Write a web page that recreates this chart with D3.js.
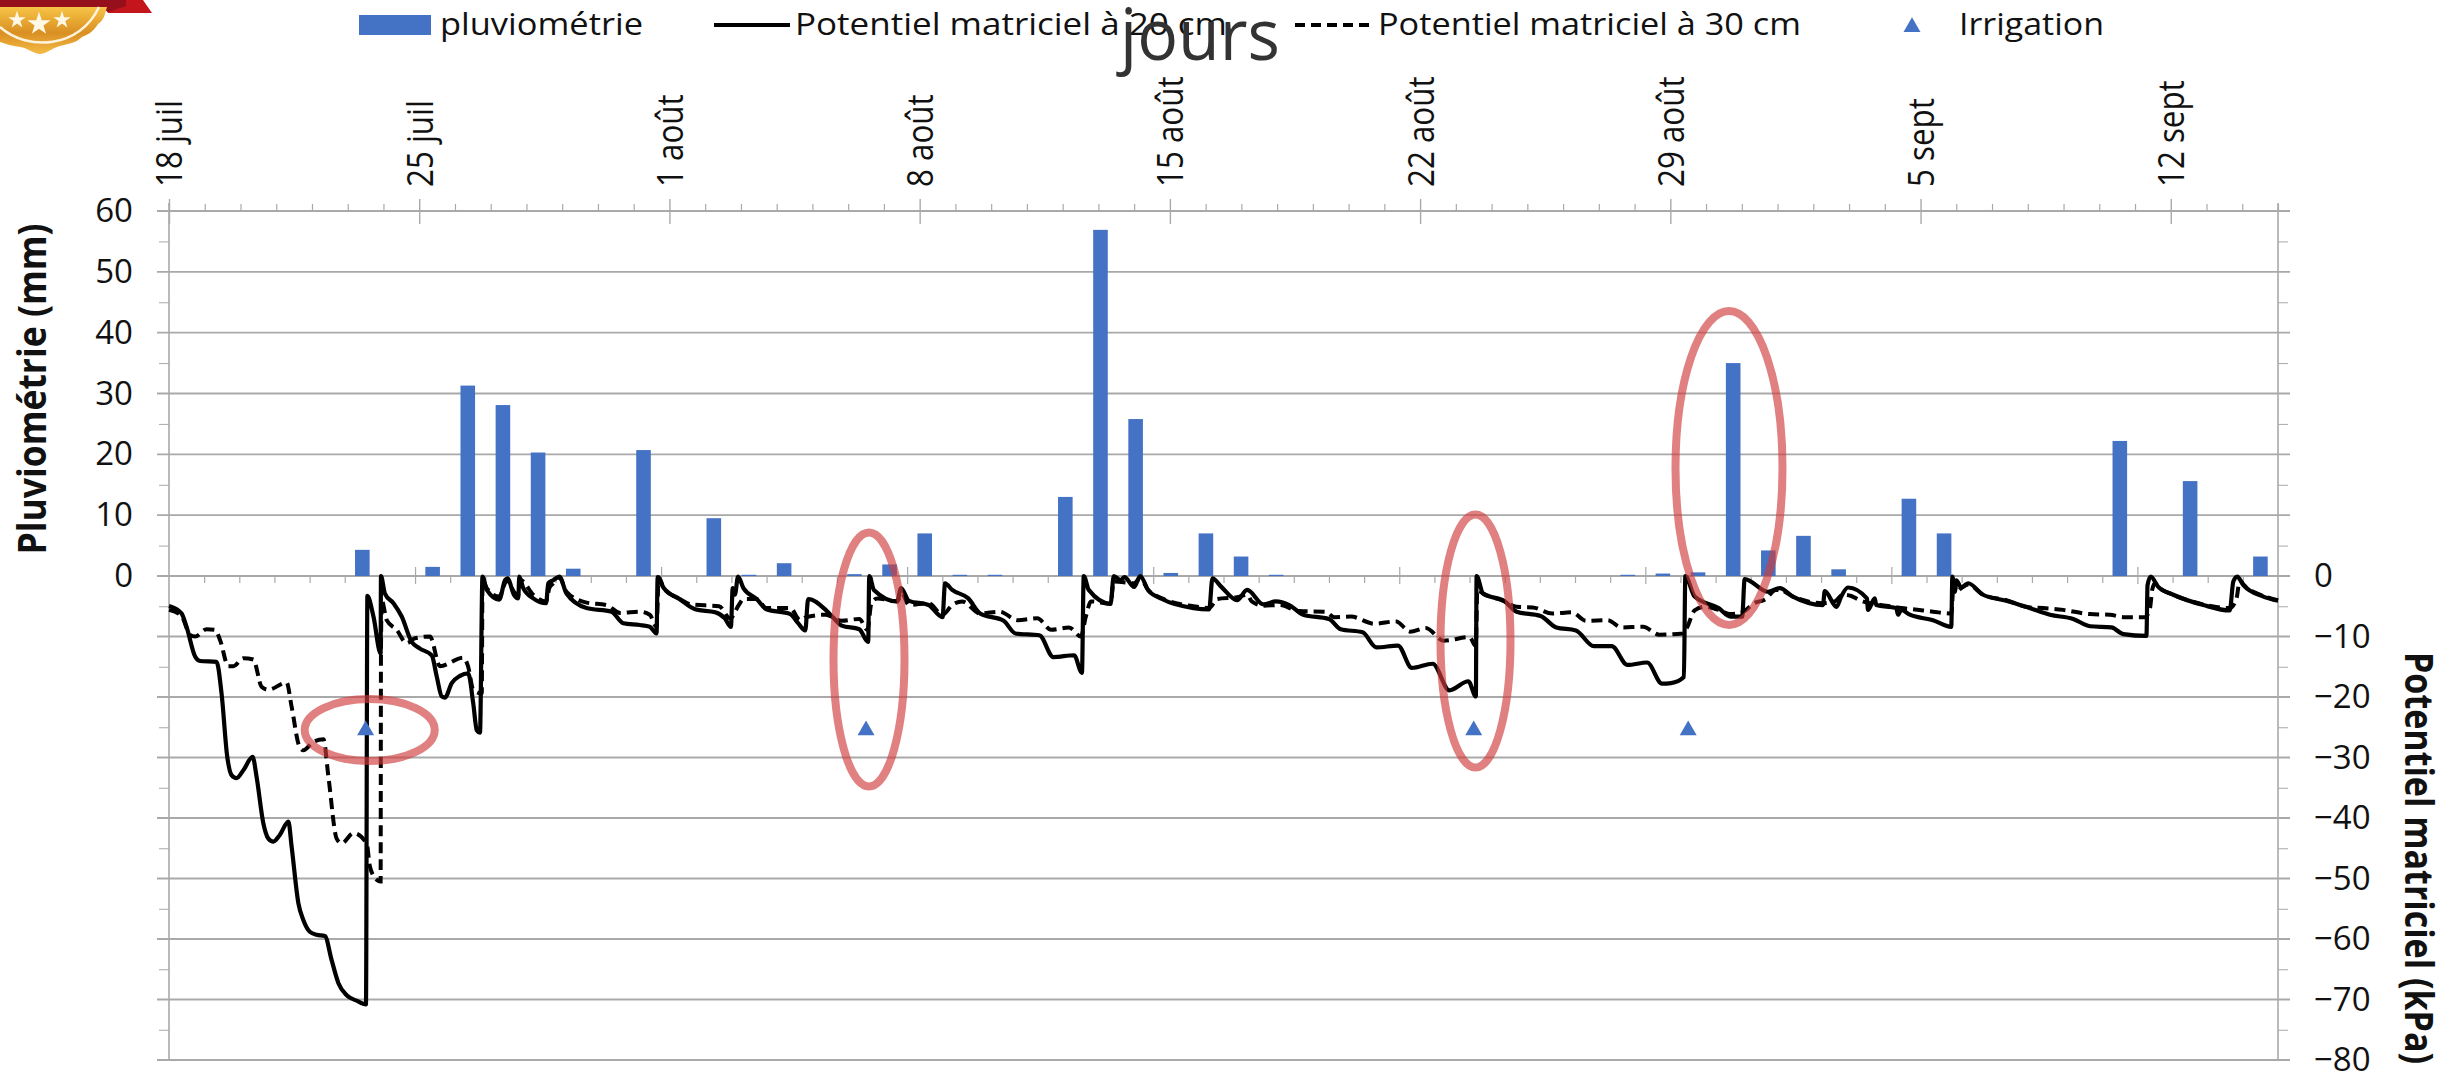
<!DOCTYPE html>
<html><head><meta charset="utf-8">
<style>html,body{margin:0;padding:0;background:#fff}svg{display:block}text{font-family:"Open Sans",sans-serif;fill:#111}</style>
<script src="https://cdn.jsdelivr.net/npm/d3@7/dist/d3.min.js"></script></head>
<body><svg id="c" width="2453" height="1073"></svg>
<script>
const rain=[0,0,0,0,0,4.3,0,1.5,31.3,28.1,20.3,1.2,0,20.7,0,9.5,0.2,2.1,0,0.3,1.9,7,0.2,0.2,0,13,56.9,25.8,0.5,7,3.2,0.2,0,0,0,0,0,0,0,0,0,0.2,0.4,0.6,35,4.2,6.6,1.1,0,12.7,7,0,0,0,0,22.2,0,15.6,0,3.2];
const dateLabels=["18 juil","25 juil","1 août","8 août","15 août","22 août","29 août","5 sept","12 sept"];
const irrigationDays=[5.5,19.5,36.5,42.5];
const irrigationLevel=[-25.5,-25.5,-25.5,-25.5];
const leftLabels=[0,10,20,30,40,50,60];
const rightLabels=[0,-10,-20,-30,-40,-50,-60,-70,-80];
const day20=[0,.35,.49,.73,.87,1.33,1.47,1.63,1.75,1.89,2.08,2.34,2.45,2.64,2.78,2.92,3.1,3.34,3.43,3.62,3.76,3.94,4.13,4.36,4.55,4.74,4.97,5.25,5.51,5.55,5.72,5.92,5.93,6.04,6.28,6.51,6.79,7.02,7.35,7.49,7.63,7.72,7.91,8.14,8.37,8.51,8.61,8.7,8.77,8.89,9.24,9.4,9.47,9.65,9.77,9.8,9.91,10.19,10.55,10.61,10.75,10.92,11.12,11.68,12.38,12.71,13.17,13.45,13.64,13.67,13.84,14.28,14.72,15.28,15.55,15.72,15.77,15.83,15.92,16.07,16.44,16.71,17.38,17.6,17.8,17.88,18.37,18.6,18.82,19.31,19.56,19.59,19.72,20.37,20.48,20.7,21.25,21.64,21.71,21.91,22.36,22.69,23.35,23.68,24.35,24.74,25.32,25.54,25.59,25.73,26.34,26.43,26.62,26.73,27,27.17,27.39,27.78,28.66,29.1,29.19,29.44,29.88,30.16,30.62,30.96,31.34,31.73,32.45,32.78,33.39,33.78,34.38,34.77,35.35,35.82,36.35,36.56,36.58,36.76,37.37,37.7,38.37,38.81,39.36,39.86,40.36,40.8,41.35,41.77,42.02,42.38,42.42,42.68,43.35,43.68,44.01,44.08,44.73,45.06,45.43,46.27,46.32,46.65,46.78,46.97,47.5,47.53,47.72,47.76,48.32,48.37,48.46,48.7,49.35,49.86,49.89,49.96,50,50.14,50.33,50.75,51.4,52.05,52.62,53.27,53.74,54.34,54.67,55.32,55.35,55.44,55.65,56.07,56.91,57.65,57.75,57.86,58.03,58.59,59];
const pot20=[-4.96,-6.17,-8.37,-13.3,-14.05,-14.2,-19.4,-29.9,-32.9,-33.4,-32.1,-29.9,-33.2,-40.9,-43.4,-43.9,-42.8,-40.6,-44.7,-54.1,-56.9,-58.8,-59.3,-59.5,-63.5,-67.3,-69.3,-70.2,-70.8,-3.3,-6.7,-12.8,0,-2.9,-4.5,-6.7,-10.9,-12,-13.1,-16.6,-19.9,-20.1,-17.7,-16.5,-16.1,-21,-25.5,-25.9,-0.1,-2.3,-3.9,-0.7,-0.4,-3.1,-3.7,-0.1,-2,-3.7,-4.5,-1.2,-0.7,-0.1,-2.9,-5.3,-5.9,-7.8,-8.1,-8.4,-9.5,-0.2,-2,-3.8,-5.5,-6,-7,-8.4,-2,-3.1,-0.1,-2,-3.8,-5.5,-6.3,-7.8,-9,-3.8,-5.6,-7,-8.2,-8.8,-10.9,0,-2.3,-4.2,-2,-4.1,-4.8,-6.8,-1.2,-2.3,-3.7,-6.2,-7.4,-9.5,-9.8,-13.4,-13.1,-16,0,-2.3,-4.6,0,-0.7,-0.2,-1.8,0,-2.3,-3.8,-5.3,-5.5,-0.4,-1.8,-4,-2.3,-4.7,-4.2,-4.8,-6.4,-7.1,-8.8,-9.3,-11.8,-11.5,-15.2,-14.5,-18.9,-17.4,-19.9,0,-2.9,-4.2,-5.9,-6.6,-8.5,-9,-11.6,-11.6,-14.7,-14.3,-17.8,-17.7,-16.7,0,-3.4,-5.3,-6.7,-6.7,-0.5,-2.6,-2,-3.4,-4.8,-2.5,-5.1,-3.4,-1.9,-3.7,-5.6,-3.7,-4.8,-5.3,-6.4,-5.6,-6.4,-7.3,-8.4,-0.1,-2.6,-0.7,-1.9,-1.2,-3.1,-4.1,-5.3,-6.4,-7.1,-8.3,-8.5,-9.6,-9.9,-1.5,-0.1,-1.8,-3.1,-4.8,-5.7,-0.9,-0.1,-1.5,-3.4,-4.1];
const day30=[0,.35,.59,.73,1.05,1.29,1.43,1.66,1.8,2.08,2.36,2.59,2.78,3.29,3.43,3.65,3.76,4.04,4.32,4.46,4.69,4.83,5.16,5.53,5.62,5.81,5.92,5.93,5.95,6.09,6.37,6.65,6.88,7.3,7.58,8.23,8.37,8.51,8.75,8.77,8.89,9.24,9.4,9.47,9.65,9.77,9.84,10.19,10.55,10.64,10.75,10.92,11.12,11.68,12.24,12.62,13.18,13.45,13.64,13.7,13.84,14.28,14.61,15.39,15.7,15.94,16.07,16.44,16.71,17.38,17.66,17.82,18.37,18.82,19.31,19.54,19.65,19.81,20.37,20.5,20.7,21.25,21.64,21.91,22.19,22.69,23.24,23.74,24.29,24.68,25.18,25.51,25.65,25.79,26.34,26.43,27,27.17,27.39,27.78,28.66,29.1,29.33,29.88,30.16,30.29,30.62,31.07,31.62,32.34,32.61,33.06,33.72,34.33,34.72,35.16,35.66,36.38,36.56,36.6,36.76,37.37,37.7,38.15,38.7,39.25,39.64,40.25,40.63,41.24,41.69,42.35,42.46,42.68,42.96,43.35,43.68,44.01,44.34,44.67,44.95,45.06,45.43,46.27,46.6,46.83,47.06,47.3,47.58,48.04,48.46,48.79,49.35,49.86,49.93,50,50.14,50.33,50.75,51.4,52.05,52.43,52.99,53.74,54.3,54.67,55.28,55.42,55.48,55.56,55.65,56.07,56.91,57.65,57.84,57.93,58.03,58.59,59];
const pot30=[-5.6,-6.6,-9.75,-10,-8.8,-8.9,-10.6,-14.9,-14.9,-13.6,-13.8,-18.3,-18.8,-17.6,-21.6,-28.2,-28.8,-27.4,-27,-33.2,-43.4,-44.2,-42.5,-44.2,-48,-50.2,-50.5,-12.8,-4,-7.3,-8.9,-11.1,-10.3,-10,-14.9,-13.5,-15,-18.8,-19.4,-0.7,-2,-3.4,-1.2,-0.7,-2.6,-3.1,-0.7,-3.1,-4.2,-2,-1.2,-0.2,-2.6,-4.4,-4.8,-6.1,-5.9,-6.4,-8.4,-0.2,-2,-3.8,-4.7,-5,-7,-4.8,-3.8,-3.8,-5.3,-5.3,-7.3,-6.8,-6.4,-7.4,-7.1,-8.9,-4.5,-3.7,-4.2,-2.9,-4.8,-4.5,-6.4,-4.8,-4.2,-6.2,-5.9,-7.3,-7,-8.9,-8.5,-10,-6.7,-4.2,-4.6,-0.9,-1.2,-0.4,-2.3,-3.7,-5,-5.3,-3.8,-3.5,-3.1,-4.2,-4.9,-4.8,-5.8,-5.9,-6.8,-6.7,-7.9,-7.5,-9.2,-8.6,-10.7,-10.1,-11.6,-2.3,-2.9,-4.2,-5.1,-5.2,-6.2,-6,-7.4,-7.3,-8.5,-8.4,-9.7,-9.5,-8.6,-5.7,-5.1,-5.6,-6.3,-6,-4.5,-3.8,-2.3,-2.3,-3.4,-4.5,-4.2,-3.1,-3.3,-4,-4.5,-4.9,-5.3,-5.5,-5.9,-6.2,-0.9,-2.6,-2,-1.4,-3.1,-4,-5.2,-5.3,-5.6,-6.3,-6.4,-6.8,-6.8,-5.3,-2.3,-1.2,-1.8,-3.1,-4.7,-5.3,-3.7,-0.7,-1.4,-3.3,-4];

const grey="#a9a9a9";
const svg=d3.select("#c");
const x0=169,x1=2278;
const y=d3.scaleLinear().domain([-80,0,60]).range([1060,576,211]);
const xDay=d3.scaleLinear().domain([0,59]).range([x0,x1]);
const xBand=d3.scaleBand().domain(d3.range(rain.length)).range([x0,x1]).paddingInner(.585).paddingOuter(.2925);
const xStep=d3.scaleLinear().domain([0,rain.length]).range([x0,x1]);
const major=d3.range(-80,61,10), minor=d3.range(-75,60,10);

function styleAxis(g){g.select(".domain").remove();g.selectAll("line").attr("stroke",grey);}

// medal
const defs=svg.append("defs");
const gr=defs.append("linearGradient").attr("id","gold").attr("x1",0).attr("y1",0).attr("x2",0).attr("y2",1);
gr.append("stop").attr("offset",0).attr("stop-color","#f7c446");
gr.append("stop").attr("offset",.55).attr("stop-color","#d98f22");
gr.append("stop").attr("offset",1).attr("stop-color","#f4bb45");
const medal=svg.append("g");
medal.append("path").attr("d","M100 0H143L152 13H108Z").attr("fill","#c4141c");
medal.append("path").attr("d","M0 0H126V6L108 12L100 7H0Z").attr("fill","#95101a");
medal.append("path").attr("d","M0 7H107C105 14 104 20 98 24C94 30 90 34 82 37C76 43 68 44 60 46C52 48 46 54 40 54C34 54 28 48 20 47C12 46 6 44 0 42Z").attr("fill","url(#gold)");
medal.append("path").attr("d","M0 27C28 52 80 48 99 7").attr("fill","none").attr("stroke","#fdf3dc").attr("stroke-width",2.5);
[[17,20,6],[39,24,8],[62,20,6]].forEach(s=>medal.append("path").attr("d",d3.symbol(d3.symbolStar,s[2]*s[2]*2.6)()).attr("transform",`translate(${s[0]},${s[1]})`).attr("fill","#fff8e6"));

// grid and axes
svg.append("g").selectAll("line").data(major).join("line").attr("x1",157).attr("x2",2290).attr("y1",d=>y(d)).attr("y2",d=>y(d)).attr("stroke",grey).attr("stroke-width",1.8);
svg.append("g").selectAll("line").data([x0,x1]).join("line").attr("x1",d=>d).attr("x2",d=>d).attr("y1",203).attr("y2",1060).attr("stroke",grey).attr("stroke-width",1.6);
svg.append("g").attr("transform",`translate(${x0},0)`).call(d3.axisLeft(y).tickValues(minor).tickSize(10).tickFormat("")).call(styleAxis);
svg.append("g").attr("transform",`translate(${x1},0)`).call(d3.axisRight(y).tickValues(minor).tickSize(10).tickFormat("")).call(styleAxis);
const la=svg.append("g").attr("transform",`translate(${x0},0)`).call(d3.axisLeft(y).tickValues(leftLabels).tickSize(12).tickPadding(24)).call(styleAxis);
la.selectAll("line").attr("stroke","none");
la.selectAll("text").attr("font-size",33).attr("font-family",null);
const ra=svg.append("g").attr("transform",`translate(${x1},0)`).call(d3.axisRight(y).tickValues(rightLabels).tickSize(12).tickPadding(24)).call(styleAxis);
ra.selectAll("line").attr("stroke","none");
ra.selectAll("text").attr("font-size",33).attr("font-family",null);

// top date axis
const topMinor=d3.range(1,60).filter(d=>d%7!==0);
svg.append("g").attr("transform","translate(0,211)").call(d3.axisTop(xDay).tickValues(topMinor).tickSize(7).tickFormat("")).call(styleAxis).selectAll("line").attr("stroke-width",1.2);
const topMajor=dateLabels.map((_,i)=>i*7);
const ta=svg.append("g").attr("transform","translate(0,211)").call(d3.axisTop(xDay).tickValues(topMajor).tickSize(12).tickFormat((d,i)=>dateLabels[i])).call(styleAxis);
ta.selectAll("line").attr("y2",-12).attr("y1",13).attr("stroke-width",1.4);
ta.selectAll("text").attr("font-family",null).attr("font-size",36).attr("text-anchor","start").attr("dy",".36em").attr("y",0).attr("x",0)
  .attr("transform","translate(0,-24) rotate(-90) scale(.87,1)");

// zero-line category axis
const zMinor=d3.range(1,60).filter(d=>d%7!==0), zMajor=d3.range(7,60,7);
svg.append("g").attr("transform",`translate(0,${y(0)})`).call(d3.axisBottom(xStep).tickValues(zMinor).tickSize(7).tickFormat("")).call(styleAxis).selectAll("line").attr("stroke-width",1.2);
svg.append("g").attr("transform",`translate(0,${y(0)})`).call(d3.axisBottom(xStep).tickValues(zMajor).tickSize(8).tickFormat("")).call(styleAxis).selectAll("line").attr("y1",-9).attr("stroke-width",1.2);

// bars
svg.append("g").selectAll("rect").data(rain.map((v,i)=>({v,i})).filter(d=>d.v>0)).join("rect")
 .attr("x",d=>xBand(d.i)).attr("width",xBand.bandwidth()).attr("y",d=>y(d.v)).attr("height",d=>y(0)-y(d.v)).attr("fill","#4472c4");

// lines
const line=d3.line().curve(d3.curveMonotoneX);
const pts20=day20.map((d,i)=>[xDay(d),y(pot20[i])]), pts30=day30.map((d,i)=>[xDay(d),y(pot30[i])]);
svg.append("path").attr("d",line(pts30)).attr("fill","none").attr("stroke","#000").attr("stroke-width",4).attr("stroke-dasharray","11 6");
svg.append("path").attr("d",line(pts20)).attr("fill","none").attr("stroke","#000").attr("stroke-width",4.2).attr("stroke-linejoin","round");

// irrigation
const tri=d3.symbol(d3.symbolTriangle,125);
svg.append("g").selectAll("path").data(irrigationDays).join("path").attr("d",tri).attr("fill","#4472c4")
 .attr("transform",(d,i)=>`translate(${xDay(d)},${y(irrigationLevel[i])})`);

// annotations
const ellipses=[[369.7,730,65,31],[869,659.5,35.5,127],[1475.5,641,35,126.5],[1729,468,53.5,157]];
svg.append("g").selectAll("ellipse").data(ellipses).join("ellipse").attr("cx",d=>d[0]).attr("cy",d=>d[1]).attr("rx",d=>d[2]).attr("ry",d=>d[3])
 .attr("fill","none").attr("stroke","rgb(207,60,60)").attr("stroke-opacity",.65).attr("stroke-width",8);

// titles
function lab(txt,xp,yp,fs,len,opts={}){const t=svg.append("text").text(txt).attr("font-size",fs).attr("textLength",len).attr("lengthAdjust","spacingAndGlyphs");
 if(opts.rot!=null){t.attr("text-anchor","middle").attr("transform",`translate(${xp},${yp}) rotate(${opts.rot})`);}else{t.attr("x",xp).attr("y",yp);}
 if(opts.bold)t.attr("font-weight",700); if(opts.fill)t.style("fill",opts.fill); return t;}
lab("Pluviométrie (mm)",46,389,40,331,{rot:-90,bold:true});
lab("Potentiel matriciel (kPa)",2405,858,40,412,{rot:90,bold:true});

// legend
svg.append("rect").attr("x",359).attr("y",15).attr("width",72).attr("height",20).attr("fill","#4472c4");
lab("pluviométrie",440,35,31,203);
svg.append("line").attr("x1",714).attr("x2",790).attr("y1",25).attr("y2",25).attr("stroke","#000").attr("stroke-width",4.2);
lab("Potentiel matriciel à 20 cm",795,35,31,432);
svg.append("line").attr("x1",1295).attr("x2",1370).attr("y1",25).attr("y2",25).attr("stroke","#000").attr("stroke-width",4.2).attr("stroke-dasharray","10 6");
lab("Potentiel matriciel à 30 cm",1378,35,31,423);
svg.append("path").attr("d",tri).attr("fill","#4472c4").attr("transform","translate(1912,27)");
lab("Irrigation",1959,35,31,145);
lab("jours",1120,60,72,160,{fill:"#333333"});
</script></body></html>
